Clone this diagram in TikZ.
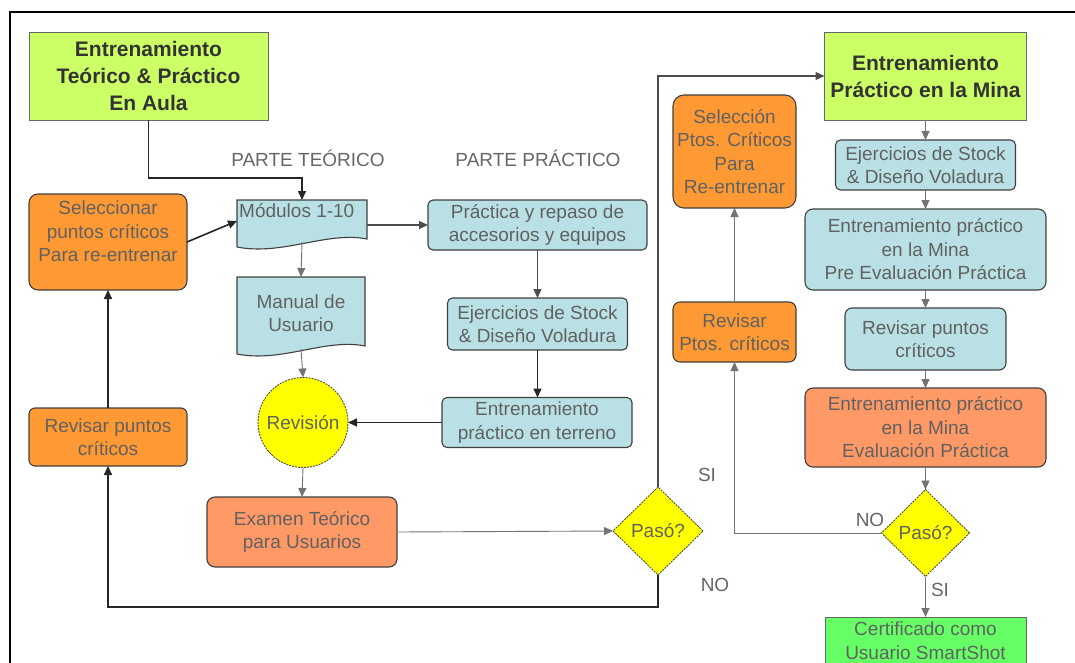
\documentclass[tikz,border=0pt]{standalone}
\usepackage{fontspec}
\setmainfont{Liberation Sans}
\usetikzlibrary{arrows.meta,shapes.geometric,calc,backgrounds}

\definecolor{cLime}{HTML}{CCFF66}
\definecolor{cOrange}{HTML}{FF9933}
\definecolor{cSalmon}{HTML}{FF9966}
\definecolor{cBlue}{HTML}{B9E0E4}
\definecolor{cYellow}{HTML}{FFFF00}
\definecolor{cGreen}{HTML}{66FF66}

\begin{document}
\begin{tikzpicture}[x=1pt,y=-1pt,
  font=\fontsize{19}{23.5}\selectfont,
  base/.style={rectangle, align=center, inner sep=2pt, outer sep=0pt, text=black!62},
  headbox/.style={base, draw=black!60, line width=0.8pt, fill=cLime,
    text=black!80, font=\fontsize{21}{27}\selectfont\bfseries},
  bluebox/.style={base, rounded corners=5pt, draw=black!75, line width=1.1pt, fill=cBlue},
  orangebox/.style={base, rounded corners=9pt, draw=black!75, line width=1.1pt, fill=cOrange},
  salmonbox/.style={base, rounded corners=8pt, draw=black!75, line width=1.1pt, fill=cSalmon},
  docnode/.style={base},
  docshape/.style={fill=cBlue, draw=black!75, line width=1.1pt},
  decision/.style={diamond, aspect=1, inner sep=0pt, outer sep=0pt, fill=cYellow,
    draw=black!70, line width=0.9pt, dash pattern=on 2pt off 1pt, text=black!62},
  review/.style={circle, inner sep=0pt, outer sep=0pt, fill=cYellow,
    draw=black!70, line width=0.9pt, dash pattern=on 2pt off 1pt, text=black!62},
  caption/.style={text=black!60, inner sep=0pt},
  tip/.style={-{Triangle[length=9pt,width=8pt]}},
  heavy/.style={tip, draw=black!85, line width=1.6pt},
  medium/.style={tip, draw=black!70, line width=1.2pt},
  light/.style={tip, draw=black!55, line width=0.9pt}
]
\useasboundingbox (0,0) rectangle (1075,663);

% outer frame
\draw[line width=2pt] (10,663) -- (10,12) -- (1075,12);

% ---------------- left half: classroom training ----------------
\node[headbox, minimum width=239pt, minimum height=88pt] (aula) at (148.5,76)
  {Entrenamiento\\Teórico \& Práctico\\En Aula};

\node[caption] (partet) at (308,158) {PARTE TEÓRICO};
\node[caption] (partep) at (538,158) {PARTE PRÁCTICO};

\node[docnode, minimum width=130pt, minimum height=42pt,
  label={[anchor=north west, inner sep=2pt, text=black!62, yshift=-1pt]north west:Módulos 1-10}] (mod) at (302,221) {};
\node[docnode, minimum width=128pt, minimum height=72pt] (man) at (301,313)
  {Manual de\\Usuario};

\node[review, minimum size=90pt] (revi) at (303,422.5) {Revisión};

\node[salmonbox, minimum width=190pt, minimum height=70pt] (exa) at (302,532)
  {Examen Teórico\\para Usuarios};

% text sits in the upper part of this box
\node[orangebox, minimum width=158pt, minimum height=96pt] (sel) at (108,242)
  {\raisebox{4pt}[0pt][0pt]{\begin{tabular}{@{}c@{}}Seleccionar\\puntos críticos\\Para re-entrenar\end{tabular}}};
\node[orangebox, rounded corners=6pt, minimum width=158pt, minimum height=58pt] (rev) at (108,437)
  {Revisar puntos\\críticos};

\node[bluebox, minimum width=219pt, minimum height=50pt] (pra) at (537.5,225)
  {Práctica y repaso de\\accesorios y equipos};
\node[bluebox, minimum width=180pt, minimum height=52pt] (eje) at (537.5,324)
  {Ejercicios de Stock\\\& Diseño Voladura};
\node[bluebox, minimum width=190pt, minimum height=50pt] (ter) at (537,422.5)
  {Entrenamiento\\práctico en terreno};

\node[decision, minimum width=90pt, minimum height=88pt] (paso1) at (658,531) {Pasó?};
\node[caption] (si1) at (707,475) {SI};
\node[caption] (no1) at (715,585) {NO};

% ---------------- right half: training at the mine ----------------
\node[headbox, minimum width=202pt, minimum height=88pt] (mina) at (925.5,76)
  {Entrenamiento\\Práctico en la Mina};
\node[bluebox, minimum width=180pt, minimum height=50pt] (ejr) at (925.5,165)
  {Ejercicios de Stock\\\& Diseño Voladura};
\node[bluebox, rounded corners=8pt, minimum width=241pt, minimum height=81pt] (pre) at (925.5,249.5)
  {Entrenamiento práctico\\en la Mina\\Pre Evaluación Práctica};
\node[bluebox, rounded corners=7pt, minimum width=161pt, minimum height=62pt] (revb) at (925.5,339)
  {Revisar puntos\\críticos};
\node[salmonbox, minimum width=241pt, minimum height=79pt] (eval) at (925.5,427.5)
  {Entrenamiento práctico\\en la Mina\\Evaluación Práctica};
\node[decision, minimum width=88pt, minimum height=87pt] (paso2) at (925.5,533) {Pasó?};
\node[base, draw=black!60, line width=0.8pt, fill=cGreen, minimum width=201pt, minimum height=52pt] (cert) at (925.5,643)
  {\raisebox{3pt}{\begin{tabular}{@{}c@{}}Certificado como\\Usuario SmartShot\end{tabular}}};

\node[orangebox, rounded corners=11pt, minimum width=123pt, minimum height=113pt] (selr) at (734.5,151.5)
  {Selección\\Ptos. Críticos\\Para\\Re-entrenar};
\node[orangebox, rounded corners=7pt, minimum width=123pt, minimum height=60pt] (revo) at (734.5,332)
  {Revisar\\Ptos. críticos};

\node[caption] (no2) at (870,520) {NO};
\node[caption] (si2) at (940,590) {SI};

% document shapes with a wavy lower edge
\begin{scope}[on background layer]
  \foreach \n in {mod,man} {
    \filldraw[docshape] (\n.north west) -- (\n.north east) -- ([yshift=3pt]\n.south east)
      .. controls ([xshift=-40pt,yshift=11pt]\n.south east) and ([xshift=45pt,yshift=-14pt]\n.south west)
      .. ([yshift=-5pt]\n.south west) -- cycle;
  }
\end{scope}

% ---------------- connectors ----------------
\coordinate (k1) at (148.5,178);
\coordinate (k2) at (658,607);

\draw[heavy] (aula.south) -- (k1) -| (mod.north);
\draw[light] (mod.south) -- (man.north);
\draw[light] (man.south) -- (revi.north);
\draw[light] (revi.south) -- (exa.north);
\draw[light] (exa.east) -- (paso1.west);
\draw[medium] (paso1.north) |- (mina.west);
\draw[heavy] (paso1.south) -- (k2) -| (rev.south);
\draw[heavy] (rev.north) -- (sel.south);
\draw[heavy] (sel.east) -- (mod.west);
\draw[medium] (mod.east |- pra.west) -- (pra.west);
\draw[medium] (pra.south) -- (eje.north);
\draw[heavy] (eje.south) -- (eje.south |- ter.north);
\draw[heavy] (ter.west) -- (revi.east);

\draw[light] (mina.south) -- (ejr.north);
\draw[light] (ejr.south) -- (pre.north);
\draw[light] (pre.south) -- (revb.north);
\draw[light] (revb.south) -- (eval.north);
\draw[light] (eval.south) -- (paso2.north);
\draw[light] (paso2.south) -- (cert.north);
\draw[light] (paso2.west) -| (revo.south);
\draw[light] (revo.north) -- (selr.south);
\end{tikzpicture}
\end{document}
